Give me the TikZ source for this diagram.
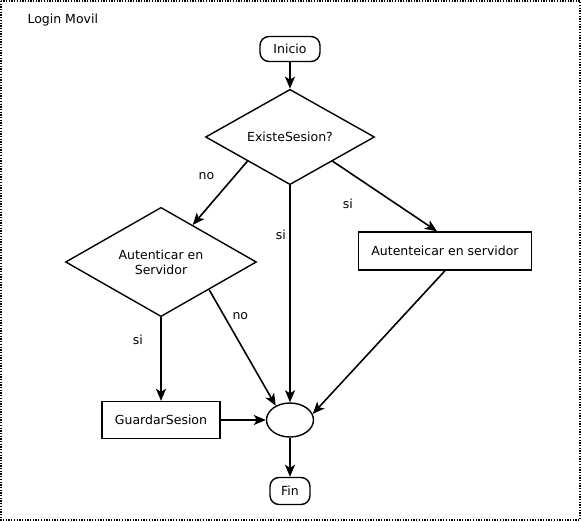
\documentclass[tikz,border=0pt]{standalone}
\usepackage{fontspec}
\setmainfont{DejaVu Sans}
\usepackage{tikz}
\usetikzlibrary{shapes,arrows}
\usetikzlibrary{arrows.meta, positioning}

\begin{document}
\begin{tikzpicture}[x=1pt, y=-1pt, font=\fontsize{12.5}{15}\selectfont,
    terminal/.style={draw, line width=1.4pt, rounded corners=9pt, minimum height=25pt, inner sep=3pt},
    decision/.style={draw, diamond, line width=1.4pt, align=center, inner sep=0pt},
    process/.style={draw, rectangle, line width=1.4pt, minimum height=37pt},
    merge/.style={draw, ellipse, line width=1.4pt, minimum width=47pt, minimum height=34pt, inner sep=0pt}]
          \useasboundingbox (0,0) rectangle (582,522);
          \draw [line width=1.3pt, dash pattern=on 1.3pt off 1.4pt] (1,1) rectangle (580,520);
          \node (title) [anchor=west] at (24,20) {Login Movil};

          \node (inicio) [terminal, minimum width=60pt] at (290,49) {Inicio};
          \node (existe) [decision, minimum width=169pt, minimum height=94pt] at (290,137) {ExisteSesion?};
          \node (autent) [decision, minimum width=191pt, minimum height=108pt] at (161,262) {Autenticar en\\Servidor};
          \node (autserv) [process, minimum width=173pt, minimum height=38pt] at (445,251) {Autenteicar en servidor};
          \node (guardar) [process, minimum width=118pt] at (161,420) {GuardarSesion};
          \node (merge) [merge] at (290,420) {};
          \node (fin) [terminal, minimum width=40pt, minimum height=27pt] at (290,491) {Fin};

          \path [-{Stealth[length=12pt, width=10pt, inset=3pt]}, line width=1.6pt]
              (inicio) edge (existe)
              (existe.south west) edge node[pos=0.24, left=16pt] {no} (autent)
              (existe) edge node[pos=0.23, left] {si} (merge)
              (existe.south east) edge node[pos=0.3, below left=13pt and 7pt] {si} ([xshift=-8pt]autserv.north)
              (autent) edge node[pos=0.27, left=14pt] {si} (guardar)
              (autent.south east) edge node[pos=0.23, right=4pt] {no} (merge.135)
              (autserv.south) edge (merge.15)
              (guardar) edge (merge)
              (merge) edge (fin)
              ;
      \end{tikzpicture}
\end{document}
